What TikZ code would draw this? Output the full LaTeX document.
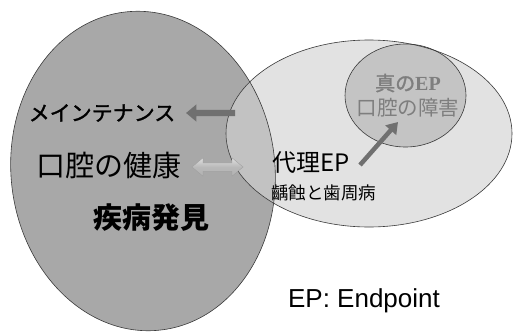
\documentclass[tikz,border=0pt]{standalone}
\usepackage{fontspec}
\setmainfont{Liberation Sans}
\newfontfamily\cjk{Noto Sans CJK JP}
\newfontfamily\cjkmed[FakeBold=1.6]{Noto Sans CJK JP}
\newfontfamily\serifEP{Liberation Serif}
\usetikzlibrary{shapes.arrows,arrows.meta}
\definecolor{leftfill}{HTML}{A8A8A8}
\definecolor{rightfill}{HTML}{E2E2E2}
\definecolor{overfill}{HTML}{C2C2C2}
\definecolor{innerfill}{HTML}{C4C4C4}
\definecolor{edge}{HTML}{3A3A3A}
\definecolor{arrowdark}{HTML}{707070}
\definecolor{textgray}{HTML}{7E7E7E}
\tikzset{
  edgeline/.style={draw=edge, line width=0.6pt},
  jtext/.style={inner sep=0pt, text=black, font=\cjk},
  graytext/.style={inner sep=0pt, text=textgray, font=\cjk, align=center},
}
\begin{document}
\begin{tikzpicture}[x=1pt,y=-1pt]
\useasboundingbox (0,0) rectangle (513,332);
% fills
\fill[leftfill, rotate around={6:(143,171)}] (143,171) ellipse [x radius=132, y radius=160];
\fill[rightfill] (369,133.5) ellipse [x radius=143, y radius=93.5];
\begin{scope}
  \clip[rotate around={6:(143,171)}] (143,171) ellipse [x radius=132, y radius=160];
  \fill[overfill] (369,133.5) ellipse [x radius=143, y radius=93.5];
\end{scope}
\fill[innerfill] (405.5,95.5) ellipse [x radius=60.5, y radius=51.5];
% borders
\draw[edgeline, rotate around={6:(143,171)}] (143,171) ellipse [x radius=132, y radius=160];
\draw[edgeline] (369,133.5) ellipse [x radius=143, y radius=93.5];
\draw[edgeline] (405.5,95.5) ellipse [x radius=60.5, y radius=51.5];
% texts
\node[jtext, font=\cjkmed\fontsize{21}{21}\selectfont] (maint) at (102,113) {メインテナンス};
\node[jtext, font=\cjk\fontsize{29}{29}\selectfont] (health) at (109,166) {口腔の健康};
\node[jtext, font=\cjk\bfseries\fontsize{29}{29}\selectfont] (disease) at (151,218) {疾病発見};
\node[jtext, font=\cjk\fontsize{24}{24}\selectfont, anchor=west] (surr) at (272,163) {代理EP};
\node[jtext, font=\cjk\fontsize{17.5}{17.5}\selectfont, anchor=west] (caries) at (271,193) {齲蝕と歯周病};
\node[graytext, font=\cjkmed\fontsize{20}{20}\selectfont] (true) at (408,83) {真の{\serifEP\bfseries EP}};
\node[graytext, font=\cjk\fontsize{20.5}{20.5}\selectfont] (oral) at (408,108) {口腔の障害};
\node[inner sep=0pt, font=\fontsize{26}{26}\selectfont, anchor=base] (ep) at (364,307) {EP: Endpoint};
% arrows
\node[single arrow, fill=arrowdark, draw=none, minimum height=49pt,
      inner xsep=0pt, inner ysep=3pt, single arrow head extend=5.5pt,
      shape border rotate=180, single arrow tip angle=80] (a1) at (212.5,113) {};
\node[double arrow, top color=gray!25, bottom color=gray!60, middle color=gray!55, draw=gray!75, line width=0.4pt,
      minimum height=51pt, inner xsep=0pt, inner ysep=4pt, double arrow head extend=5pt,
      double arrow tip angle=80] (a2) at (217.5,167) {};
\coordinate (a3s) at (360,165);
\coordinate (a3e) at (398,122);
\draw[arrowdark, line width=4.5pt, -{Triangle[length=11pt,width=14pt]}] (a3s) -- (a3e);
\end{tikzpicture}
\end{document}
